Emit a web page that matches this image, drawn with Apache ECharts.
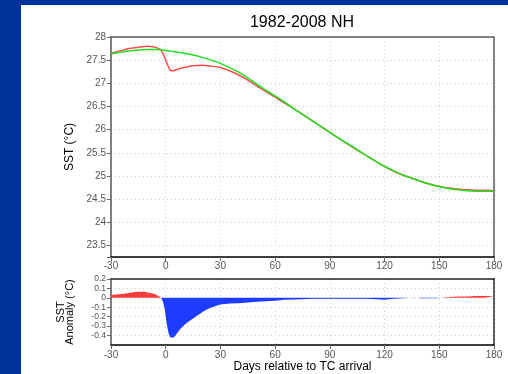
<!DOCTYPE html>
<html>
<head>
<meta charset="utf-8">
<script src="https://cdn.jsdelivr.net/npm/echarts@6/dist/echarts.min.js"></script>
<style>
  body { margin: 0; background: #003399; }
  #panel { position: absolute; left: 21px; top: 5px; right: 0; bottom: 0; background: #fff; }
  #chart { position: absolute; left: 0; top: 0; width: 508px; height: 374px; }
</style>
</head>
<body>
<div id="panel"></div>
<div id="chart"></div>
<script>
// climatology (green) SST
const climDays = [-30, -25, -20, -15, -10, -5, 0, 5, 10, 15, 20, 25, 30, 35, 40, 45, 50, 55, 60, 65, 70, 75, 80, 85, 90, 95, 100, 105, 110, 115, 120, 125, 130, 135, 140, 145, 150, 155, 160, 165, 170, 175, 180];
const climSst = [27.64, 27.67, 27.70, 27.72, 27.73, 27.73, 27.71, 27.68, 27.65, 27.61, 27.56, 27.50, 27.43, 27.34, 27.24, 27.12, 26.98, 26.85, 26.73, 26.60, 26.46, 26.33, 26.20, 26.07, 25.94, 25.81, 25.69, 25.57, 25.44, 25.32, 25.21, 25.11, 25.02, 24.95, 24.88, 24.82, 24.77, 24.73, 24.70, 24.68, 24.67, 24.67, 24.67];

// TC composite (red) SST
const tcDays = [-30, -25, -20, -15, -10, -7, -5, -3, -2, -1, 0, 1, 2, 3, 4, 6, 10, 15, 20, 25, 30, 35, 40, 45, 50, 55, 60, 65, 70, 75, 80, 85, 90, 95, 100, 105, 110, 115, 120, 125, 130, 135, 140, 145, 150, 155, 160, 165, 170, 175, 180];
const tcSst = [27.65, 27.70, 27.75, 27.78, 27.80, 27.79, 27.77, 27.73, 27.68, 27.60, 27.50, 27.40, 27.32, 27.27, 27.27, 27.30, 27.34, 27.38, 27.39, 27.37, 27.34, 27.27, 27.18, 27.07, 26.94, 26.82, 26.70, 26.58, 26.46, 26.33, 26.20, 26.07, 25.94, 25.81, 25.68, 25.56, 25.44, 25.32, 25.20, 25.10, 25.02, 24.95, 24.88, 24.82, 24.77, 24.74, 24.72, 24.70, 24.69, 24.69, 24.68];

// SST anomaly (TC minus climatology)
const anomDays = [-30, -27, -24, -21, -18, -15, -12, -9, -6, -4, -2.5, -1.5, -0.5, 0.5, 1.5, 2.5, 3.5, 4.5, 6, 8, 10, 12, 15, 18, 21, 24, 27, 30, 35, 40, 45, 50, 55, 60, 65, 70, 75, 80, 90, 100, 110, 115, 120, 125, 130, 134, 136, 138, 140, 148, 151, 155, 160, 165, 170, 175, 180];
const anomVals = [0.03, 0.035, 0.04, 0.05, 0.06, 0.065, 0.065, 0.055, 0.04, 0.02, 0, -0.04, -0.12, -0.27, -0.37, -0.42, -0.43, -0.42, -0.38, -0.33, -0.29, -0.26, -0.22, -0.18, -0.14, -0.11, -0.09, -0.07, -0.06, -0.058, -0.05, -0.04, -0.035, -0.03, -0.02, -0.018, -0.015, -0.01, -0.01, -0.01, -0.01, -0.015, -0.02, -0.01, -0.005, 0, 0.005, 0, -0.005, -0.005, 0, 0.01, 0.015, 0.015, 0.02, 0.02, 0.02];

const dayTicks = { min: -30, max: 180, interval: 30 };

const chart = echarts.init(document.getElementById('chart'), null, { renderer: 'canvas' });

const labelStyle = { color: '#555', fontSize: 10, fontFamily: 'Liberation Sans' };
const gridLine = { show: true, lineStyle: { color: '#d0d0d0', type: [1, 3], width: 1 } };
const hidden = { axisLabel: { show: false }, axisTick: { show: false }, splitLine: { show: false } };

function frameAxis(gridIndex, position, color, isX) {
  const base = Object.assign({
    type: 'value',
    gridIndex: gridIndex,
    position: position,
    axisLine: { show: true, onZero: false, lineStyle: { color: color, width: 1.5, type: [3, 1] } }
  }, hidden);
  if (isX) Object.assign(base, dayTicks);
  return base;
}

const option = {
  animation: false,
  title: {
    text: '1982-2008 NH',
    left: 302,
    top: 15,
    padding: 0,
    textAlign: 'center',
    textStyle: { fontSize: 16, fontWeight: 'normal', color: '#000', fontFamily: 'Liberation Sans' }
  },
  grid: [
    { left: 111, top: 37, right: 14, height: 220 },
    { left: 111, top: 279, right: 14, height: 66 }
  ],
  xAxis: [
    Object.assign({
      type: 'value', gridIndex: 0, position: 'bottom',
      axisLine: { onZero: false, lineStyle: { color: '#000', width: 1.5 } },
      axisTick: { show: true, length: 4, lineStyle: { color: '#666' } },
      axisLabel: Object.assign({ margin: 4 }, labelStyle),
      splitLine: gridLine
    }, dayTicks),
    frameAxis(0, 'top', '#555', true),
    Object.assign({
      type: 'value', gridIndex: 1, position: 'bottom',
      axisLine: { onZero: false, lineStyle: { color: '#000', width: 1.5 } },
      axisTick: { show: true, length: 4, lineStyle: { color: '#666' } },
      axisLabel: Object.assign({ margin: 5 }, labelStyle),
      splitLine: gridLine,
      name: 'Days relative to TC arrival',
      nameLocation: 'middle',
      nameGap: 16,
      nameTextStyle: { color: '#000', fontSize: 12, fontFamily: 'Liberation Sans' }
    }, dayTicks),
    frameAxis(1, 'top', '#222', true)
  ],
  yAxis: [
    {
      type: 'value', gridIndex: 0, position: 'left',
      min: 23.25, max: 28, splitNumber: 10,
      axisLine: { show: true, onZero: false, lineStyle: { color: '#808080', width: 2 } },
      axisTick: { show: true, length: 4, lineStyle: { color: '#666' } },
      axisLabel: Object.assign({
        margin: 5,
        formatter: v => (Math.abs(v * 2 - Math.round(v * 2)) < 1e-6 ? String(v) : '')
      }, labelStyle),
      splitLine: gridLine,
      name: 'SST (°C)',
      nameLocation: 'middle',
      nameGap: 29,
      nameRotate: 90,
      nameTextStyle: { color: '#000', fontSize: 12, fontFamily: 'Liberation Sans' }
    },
    Object.assign(frameAxis(0, 'right', '#555', false), { min: 23.25, max: 28 }),
    {
      type: 'value', gridIndex: 1, position: 'left',
      min: -0.5, max: 0.2, interval: 0.1,
      axisLine: { show: true, onZero: false, lineStyle: { color: '#808080', width: 2 } },
      axisTick: { show: true, length: 4, lineStyle: { color: '#666' } },
      axisLabel: Object.assign({
        margin: 5, showMinLabel: false, showMaxLabel: true, hideOverlap: false,
        formatter: v => (v < -0.45 ? '' : String(Math.round(v * 10) / 10))
      }, labelStyle, { fontSize: 8.5, lineHeight: 8 }),
      splitLine: gridLine,
      name: 'SST\nAnomaly (°C)',
      nameLocation: 'middle',
      nameGap: 37,
      nameRotate: 90,
      nameTextStyle: { color: '#000', fontSize: 11, lineHeight: 9, fontFamily: 'Liberation Sans' }
    },
    Object.assign(frameAxis(1, 'right', '#222', false), { min: -0.5, max: 0.2 })
  ],
  series: [
    {
      name: 'TC composite',
      type: 'line',
      xAxisIndex: 0, yAxisIndex: 0,
      data: tcDays.map((d, i) => [d, tcSst[i]]),
      smooth: 0.3,
      symbol: 'none',
      lineStyle: { color: '#ff4a4a', width: 1.5 }
    },
    {
      name: 'Climatology',
      type: 'line',
      xAxisIndex: 0, yAxisIndex: 0,
      data: climDays.map((d, i) => [d, climSst[i]]),
      smooth: 0.3,
      symbol: 'none',
      lineStyle: { color: '#1ee01e', width: 1.5 }
    },
    {
      name: 'Warm anomaly',
      type: 'line',
      xAxisIndex: 2, yAxisIndex: 2,
      data: anomDays.map((d, i) => [d, Math.max(anomVals[i], 0)]),
      symbol: 'none',
      lineStyle: { width: 0 },
      areaStyle: { color: '#f83c3c', opacity: 1, origin: 0 }
    },
    {
      name: 'Cold anomaly',
      type: 'line',
      xAxisIndex: 2, yAxisIndex: 2,
      data: anomDays.map((d, i) => [d, Math.min(anomVals[i], 0)]),
      symbol: 'none',
      lineStyle: { width: 0 },
      areaStyle: { color: '#1e3cff', opacity: 1, origin: 0 }
    }
  ]
};

chart.setOption(option);
</script>
</body>
</html>
